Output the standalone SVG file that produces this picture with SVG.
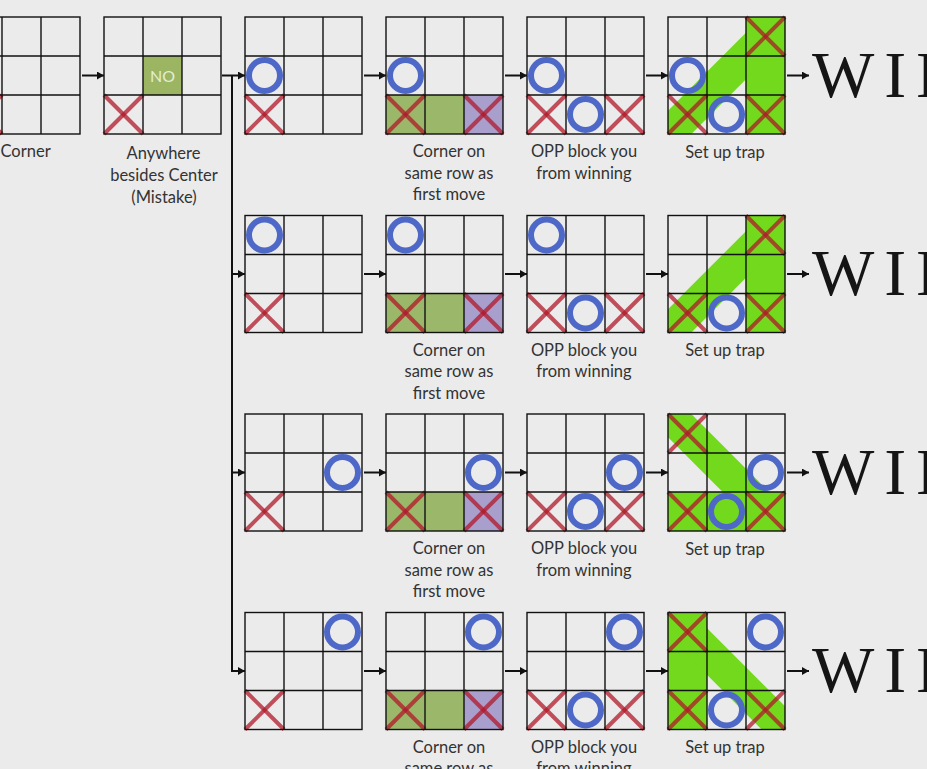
<svg xmlns="http://www.w3.org/2000/svg" xmlns:xlink="http://www.w3.org/1999/xlink" width="927" height="769" viewBox="0 0 927 769">
<style>
.bg{fill:#ebebeb}
.gl{fill:none;stroke:#111;stroke-width:1.4}
.xs line{stroke:#b0182a;stroke-opacity:0.75;stroke-width:4}
.os{fill:none;stroke:#4e68c8;stroke-width:6}
.olive{fill:#9bb86a}
.purple{fill:#a99fcd}
.lime{fill:#72d91c}
.band{stroke:#72d91c;stroke-width:33;fill:none}
.lbl{font-family:Lato,"Liberation Sans",sans-serif;font-size:16.5px;fill:#333;text-anchor:middle}
.win{font-family:"Liberation Serif",serif;font-size:66px;letter-spacing:10px;fill:#151515}
.con{fill:none;stroke:#111;stroke-width:2}
</style>
<defs>
<marker id="ah" markerUnits="userSpaceOnUse" markerWidth="8" markerHeight="8" refX="7" refY="4" orient="auto"><path d="M0,0 L7,4 L0,8 z" fill="#111"/></marker>
<clipPath id="bc"><rect x="0" y="0" width="117" height="117"/></clipPath>
<g id="grid" class="gl"><rect x="0" y="0" width="117" height="117"/><line x1="39" y1="0" x2="39" y2="117"/><line x1="78" y1="0" x2="78" y2="117"/><line x1="0" y1="39" x2="117" y2="39"/><line x1="0" y1="78" x2="117" y2="78"/></g>
<g id="x" class="xs"><line x1="0" y1="0" x2="39" y2="39"/><line x1="39" y1="0" x2="0" y2="39"/></g>
<circle id="o" class="os" cx="19.5" cy="19.5" r="15.5"/>
<g id="ofill"><rect class="olive" x="0" y="78" width="39" height="39"/><rect class="olive" x="39" y="78" width="39" height="39"/><rect class="purple" x="78" y="78" width="39" height="39"/></g>
</defs>
<rect class="bg" x="0" y="0" width="927" height="769"/>

<g id="connectors">
<line class="con" x1="82" y1="75.5" x2="104" y2="75.5" marker-end="url(#ah)"/>
<line class="con" x1="222" y1="75.5" x2="245" y2="75.5" marker-end="url(#ah)"/>
<path class="con" d="M232,75.5 V671 H245" marker-end="url(#ah)"/>
<line class="con" x1="232" y1="274" x2="245" y2="274" marker-end="url(#ah)"/>
<line class="con" x1="232" y1="472.5" x2="245" y2="472.5" marker-end="url(#ah)"/>
<line class="con" x1="364" y1="75.5" x2="386" y2="75.5" marker-end="url(#ah)"/>
<line class="con" x1="505" y1="75.5" x2="527" y2="75.5" marker-end="url(#ah)"/>
<line class="con" x1="646" y1="75.5" x2="668" y2="75.5" marker-end="url(#ah)"/>
<line class="con" x1="787" y1="75.5" x2="809" y2="75.5" marker-end="url(#ah)"/>
<line class="con" x1="364" y1="274" x2="386" y2="274" marker-end="url(#ah)"/>
<line class="con" x1="505" y1="274" x2="527" y2="274" marker-end="url(#ah)"/>
<line class="con" x1="646" y1="274" x2="668" y2="274" marker-end="url(#ah)"/>
<line class="con" x1="787" y1="274" x2="809" y2="274" marker-end="url(#ah)"/>
<line class="con" x1="364" y1="472.5" x2="386" y2="472.5" marker-end="url(#ah)"/>
<line class="con" x1="505" y1="472.5" x2="527" y2="472.5" marker-end="url(#ah)"/>
<line class="con" x1="646" y1="472.5" x2="668" y2="472.5" marker-end="url(#ah)"/>
<line class="con" x1="787" y1="472.5" x2="809" y2="472.5" marker-end="url(#ah)"/>
<line class="con" x1="364" y1="671" x2="386" y2="671" marker-end="url(#ah)"/>
<line class="con" x1="505" y1="671" x2="527" y2="671" marker-end="url(#ah)"/>
<line class="con" x1="646" y1="671" x2="668" y2="671" marker-end="url(#ah)"/>
<line class="con" x1="787" y1="671" x2="809" y2="671" marker-end="url(#ah)"/>
</g>

<!-- Row 1 -->
<g id="b1" transform="translate(-37,17)"><use href="#x" x="0" y="78"/><use href="#grid"/></g>
<text class="lbl" x="0.5" y="157" text-anchor="start" style="text-anchor:start">Corner</text>

<g id="b2" transform="translate(104,17)"><rect x="39" y="39" width="39" height="39" fill="#9bb563"/><text x="58.5" y="65" font-family="Lato,'Liberation Sans',sans-serif" font-size="16px" fill="#e4edd0" text-anchor="middle">NO</text><use href="#x" x="0" y="78"/><use href="#grid"/></g>
<text class="lbl" x="163.5" y="158.5">Anywhere</text>
<text class="lbl" x="164" y="181">besides Center</text>
<text class="lbl" x="164" y="203">(Mistake)</text>

<g id="r1b3" transform="translate(245,17)"><use href="#o" x="0" y="39"/><use href="#x" x="0" y="78"/><use href="#grid"/></g>
<g id="r1b4" transform="translate(386,17)"><use href="#ofill"/><use href="#o" x="0" y="39"/><use href="#x" x="0" y="78"/><use href="#x" x="78" y="78"/><use href="#grid"/></g>
<g id="r1b5" transform="translate(527,17)"><use href="#o" x="0" y="39"/><use href="#x" x="0" y="78"/><use href="#o" x="39" y="78"/><use href="#x" x="78" y="78"/><use href="#grid"/></g>
<g id="r1b6" transform="translate(668,17)"><rect class="lime" x="78" y="0" width="39" height="117"/><line class="band" x1="-20" y1="137" x2="137" y2="-20" clip-path="url(#bc)"/><use href="#x" x="78" y="0"/><use href="#o" x="0" y="39"/><use href="#x" x="0" y="78"/><use href="#o" x="39" y="78"/><use href="#x" x="78" y="78"/><use href="#grid"/></g>
<text class="lbl" x="449" y="157">Corner on</text>
<text class="lbl" x="449" y="178.5">same row as</text>
<text class="lbl" x="449" y="200">first move</text>
<text class="lbl" x="584" y="157">OPP block you</text>
<text class="lbl" x="584" y="178.5">from winning</text>
<text class="lbl" x="725" y="157.5">Set up trap</text>
<text class="win" x="812" y="96.5">WIN</text>

<!-- Row 2 -->
<g id="r2b3" transform="translate(245,215.5)"><use href="#o" x="0" y="0"/><use href="#x" x="0" y="78"/><use href="#grid"/></g>
<g id="r2b4" transform="translate(386,215.5)"><use href="#ofill"/><use href="#o" x="0" y="0"/><use href="#x" x="0" y="78"/><use href="#x" x="78" y="78"/><use href="#grid"/></g>
<g id="r2b5" transform="translate(527,215.5)"><use href="#o" x="0" y="0"/><use href="#x" x="0" y="78"/><use href="#o" x="39" y="78"/><use href="#x" x="78" y="78"/><use href="#grid"/></g>
<g id="r2b6" transform="translate(668,215.5)"><rect class="lime" x="78" y="0" width="39" height="117"/><line class="band" x1="-20" y1="137" x2="137" y2="-20" clip-path="url(#bc)"/><use href="#x" x="78" y="0"/><use href="#x" x="0" y="78"/><use href="#o" x="39" y="78"/><use href="#x" x="78" y="78"/><use href="#grid"/></g>
<text class="lbl" x="449" y="355.5">Corner on</text>
<text class="lbl" x="449" y="377">same row as</text>
<text class="lbl" x="449" y="398.5">first move</text>
<text class="lbl" x="584" y="355.5">OPP block you</text>
<text class="lbl" x="584" y="377">from winning</text>
<text class="lbl" x="725" y="356">Set up trap</text>
<text class="win" x="812" y="295">WIN</text>

<!-- Row 3 -->
<g id="r3b3" transform="translate(245,414)"><use href="#o" x="78" y="39"/><use href="#x" x="0" y="78"/><use href="#grid"/></g>
<g id="r3b4" transform="translate(386,414)"><use href="#ofill"/><use href="#o" x="78" y="39"/><use href="#x" x="0" y="78"/><use href="#x" x="78" y="78"/><use href="#grid"/></g>
<g id="r3b5" transform="translate(527,414)"><use href="#o" x="78" y="39"/><use href="#x" x="0" y="78"/><use href="#o" x="39" y="78"/><use href="#x" x="78" y="78"/><use href="#grid"/></g>
<g id="r3b6" transform="translate(668,414)"><rect class="lime" x="0" y="78" width="117" height="39"/><line class="band" x1="-20" y1="-20" x2="137" y2="137" clip-path="url(#bc)"/><use href="#x" x="0" y="0"/><use href="#o" x="78" y="39"/><use href="#x" x="0" y="78"/><use href="#o" x="39" y="78"/><use href="#x" x="78" y="78"/><use href="#grid"/></g>
<text class="lbl" x="449" y="554">Corner on</text>
<text class="lbl" x="449" y="575.5">same row as</text>
<text class="lbl" x="449" y="597">first move</text>
<text class="lbl" x="584" y="554">OPP block you</text>
<text class="lbl" x="584" y="575.5">from winning</text>
<text class="lbl" x="725" y="554.5">Set up trap</text>
<text class="win" x="812" y="493.5">WIN</text>

<!-- Row 4 -->
<g id="r4b3" transform="translate(245,612.5)"><use href="#o" x="78" y="0"/><use href="#x" x="0" y="78"/><use href="#grid"/></g>
<g id="r4b4" transform="translate(386,612.5)"><use href="#ofill"/><use href="#o" x="78" y="0"/><use href="#x" x="0" y="78"/><use href="#x" x="78" y="78"/><use href="#grid"/></g>
<g id="r4b5" transform="translate(527,612.5)"><use href="#o" x="78" y="0"/><use href="#x" x="0" y="78"/><use href="#o" x="39" y="78"/><use href="#x" x="78" y="78"/><use href="#grid"/></g>
<g id="r4b6" transform="translate(668,612.5)"><rect class="lime" x="0" y="0" width="39" height="117"/><line class="band" x1="-20" y1="-20" x2="137" y2="137" clip-path="url(#bc)"/><use href="#x" x="0" y="0"/><use href="#o" x="78" y="0"/><use href="#x" x="0" y="78"/><use href="#o" x="39" y="78"/><use href="#x" x="78" y="78"/><use href="#grid"/></g>
<text class="lbl" x="449" y="752.5">Corner on</text>
<text class="lbl" x="449" y="774">same row as</text>
<text class="lbl" x="584" y="752.5">OPP block you</text>
<text class="lbl" x="584" y="774">from winning</text>
<text class="lbl" x="725" y="753">Set up trap</text>
<text class="win" x="812" y="692">WIN</text>
</svg>
